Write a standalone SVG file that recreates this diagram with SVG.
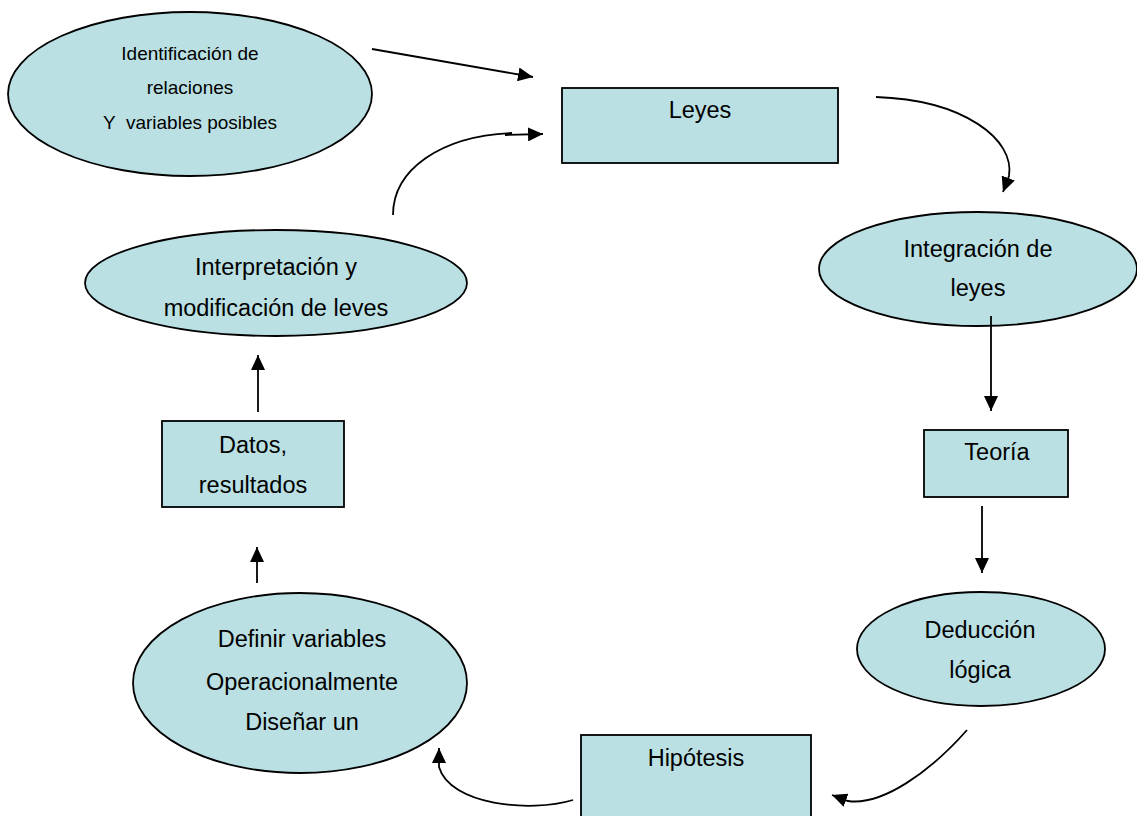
<svg xmlns="http://www.w3.org/2000/svg" width="1137" height="816" viewBox="0 0 1137 816">
  <defs>
    <marker id="arrow" markerUnits="userSpaceOnUse" markerWidth="16" markerHeight="14" refX="15" refY="7" orient="auto">
      <path d="M0,0 L15,7 L0,14 z" fill="#000"/>
    </marker>
    <style>
      .box { fill: #BAE0E3; stroke: #000; stroke-width: 1.8; }
      .lbl { font-family: "Liberation Sans", Arial, sans-serif; font-size: 23.5px; fill: #000; text-anchor: middle; }
      .lbl.small { font-size: 19px; }
      .conn { fill: none; stroke: #000; stroke-width: 1.8; marker-end: url(#arrow); }
    </style>
  </defs>
  <rect width="1137" height="816" fill="#fff"/>

  <g id="identificacion">
    <ellipse class="box" cx="190" cy="94" rx="182" ry="82"/>
    <text class="lbl small" x="190" y="60">Identificación de</text>
    <text class="lbl small" x="190" y="94">relaciones</text>
    <text class="lbl small" x="190" y="129" xml:space="preserve">Y  variables posibles</text>
  </g>

  <g id="leyes">
    <rect class="box" x="562" y="88" width="276" height="75"/>
    <text class="lbl" x="700" y="118">Leyes</text>
  </g>

  <g id="integracion">
    <ellipse class="box" cx="978" cy="269" rx="159" ry="57"/>
    <text class="lbl" x="978" y="257">Integración de</text>
    <text class="lbl" x="978" y="296">leyes</text>
  </g>

  <g id="teoria">
    <rect class="box" x="924" y="430" width="144" height="67"/>
    <text class="lbl" x="997" y="460">Teoría</text>
  </g>

  <g id="deduccion">
    <ellipse class="box" cx="981" cy="649" rx="124" ry="57"/>
    <text class="lbl" x="980" y="638">Deducción</text>
    <text class="lbl" x="980" y="678">lógica</text>
  </g>

  <g id="hipotesis">
    <rect class="box" x="581" y="735" width="230" height="95"/>
    <text class="lbl" x="696" y="766">Hipótesis</text>
  </g>

  <g id="definir">
    <ellipse class="box" cx="300" cy="683" rx="167" ry="90"/>
    <text class="lbl" x="302" y="647">Definir variables</text>
    <text class="lbl" x="302" y="690">Operacionalmente</text>
    <text class="lbl" x="302" y="730">Diseñar un</text>
  </g>

  <g id="datos">
    <rect class="box" x="162" y="421" width="182" height="86"/>
    <text class="lbl" x="253" y="453">Datos,</text>
    <text class="lbl" x="253" y="493">resultados</text>
  </g>

  <g id="interpretacion">
    <ellipse class="box" cx="276" cy="283" rx="191" ry="53"/>
    <text class="lbl" x="276" y="275">Interpretación y</text>
    <text class="lbl" x="276" y="316">modificación de leves</text>
  </g>

  <g id="connectors">
    <path class="conn" d="M372,49 L533,77"/>
    <path fill="none" stroke="#000" stroke-width="1.8" d="M393,215 C393,170 440,136 512,133"/>
    <path class="conn" d="M505,135 L543,134"/>
    <path class="conn" d="M876,97 C965,100 1015,140 1009,176 L1003,192"/>
    <path class="conn" d="M991,316 L991,411"/>
    <path class="conn" d="M982,506 L982,573"/>
    <path class="conn" d="M967,730 C930,772 882,806 848,801 L832,795"/>
    <path class="conn" d="M573,800 C530,813 450,805 439,767 L439,748"/>
    <path class="conn" d="M257,583 L257,547"/>
    <path class="conn" d="M258,412 L258,355"/>
  </g>
</svg>
